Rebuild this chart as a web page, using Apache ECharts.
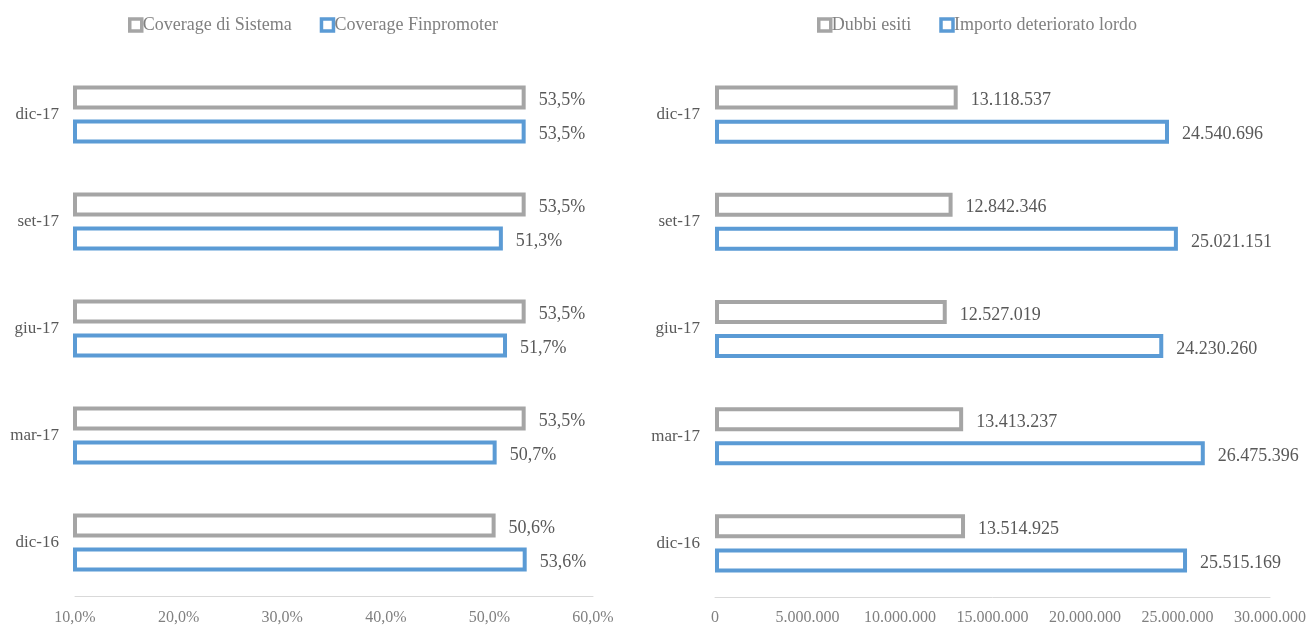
<!DOCTYPE html>
<html>
<head>
<meta charset="utf-8">
<script src="https://cdn.jsdelivr.net/npm/echarts@6/dist/echarts.min.js"></script>
<style>
html,body{margin:0;padding:0;background:#fff;}
#chart{width:1316px;height:626px;}
</style>
</head>
<body>
<div id="chart"></div>
<script>
const categories = ['dic-16', 'mar-17', 'giu-17', 'set-17', 'dic-17'];
const coverageSistema = [50.6, 53.5, 53.5, 53.5, 53.5];
const coverageFinpromoter = [53.6, 50.7, 51.7, 51.3, 53.5];
const dubbiEsiti = [13514925, 13413237, 12527019, 12842346, 13118537];
const importoDeteriorato = [25515169, 26475396, 24230260, 25021151, 24540696];
const pctTicks = { min: 10, max: 60, interval: 10 };
const amtTicks = { min: 0, max: 30000000, interval: 5000000 };

const FONT = 'Liberation Serif';
const GRAY = '#A5A5A5';
const BLUE = '#5B9BD5';

function fmtPct(v) { return v.toFixed(1).replace('.', ',') + '%'; }
function fmtAmt(v) { return String(Math.round(v)).replace(/\B(?=(\d{3})+(?!\d))/g, '.'); }

const chart = echarts.init(document.getElementById('chart'), null, { renderer: 'canvas' });

function barSeries(name, data, color, idx, fmt) {
  return {
    name: name,
    type: 'bar',
    xAxisIndex: idx,
    yAxisIndex: idx,
    data: data,
    barWidth: 24,
    barGap: '42%',
    itemStyle: { color: '#ffffff', borderColor: color, borderWidth: 4 },
    label: {
      show: true,
      position: 'right',
      distance: 13,
      offset: [0, 3],
      color: '#595959',
      fontFamily: FONT,
      fontSize: 18,
      formatter: function (p) { return fmt(p.value); }
    },
    emphasis: { disabled: true },
    animation: false
  };
}

const axisLabelBase = { fontFamily: FONT, color: '#808080', fontSize: 16 };
const axisLineStyle = { show: true, lineStyle: { color: '#D9D9D9', width: 1 } };

function legendCfg(left, names) {
  return {
    left: left, top: 11,
    itemWidth: 12, itemHeight: 12, itemGap: 28,
    icon: 'rect',
    itemStyle: { borderWidth: 3.5 },
    textStyle: { fontFamily: FONT, fontSize: 18, color: '#808080', padding: [0, 0, 0, -4] },
    data: names
  };
}

chart.setOption({
  animation: false,
  legend: [
    legendCfg(123, ['Coverage di Sistema', 'Coverage Finpromoter']),
    legendCfg(812, ['Dubbi esiti', 'Importo deteriorato lordo'])
  ],
  grid: [
    { left: 75, width: 518, top: 61, height: 535 },
    { left: 715, width: 555, top: 61, height: 536 }
  ],
  xAxis: [
    {
      gridIndex: 0, type: 'value',
      min: pctTicks.min, max: pctTicks.max, interval: pctTicks.interval,
      splitLine: { show: false }, axisLine: axisLineStyle, axisTick: { show: false },
      axisLabel: Object.assign({ margin: 14, formatter: function (v) { return fmtPct(v); } }, axisLabelBase)
    },
    {
      gridIndex: 1, type: 'value',
      min: amtTicks.min, max: amtTicks.max, interval: amtTicks.interval,
      splitLine: { show: false }, axisLine: axisLineStyle, axisTick: { show: false },
      axisLabel: Object.assign({ margin: 13, formatter: function (v) { return fmtAmt(v); } }, axisLabelBase)
    }
  ],
  yAxis: [
    {
      gridIndex: 0, type: 'category', data: categories,
      axisLine: { show: false }, axisTick: { show: false },
      axisLabel: { fontFamily: FONT, color: '#595959', fontSize: 17, margin: 16 }
    },
    {
      gridIndex: 1, type: 'category', data: categories,
      axisLine: { show: false }, axisTick: { show: false },
      axisLabel: { fontFamily: FONT, color: '#595959', fontSize: 17, margin: 15 }
    }
  ],
  series: [
    barSeries('Coverage di Sistema', coverageSistema, GRAY, 0, fmtPct),
    barSeries('Coverage Finpromoter', coverageFinpromoter, BLUE, 0, fmtPct),
    barSeries('Dubbi esiti', dubbiEsiti, GRAY, 1, fmtAmt),
    barSeries('Importo deteriorato lordo', importoDeteriorato, BLUE, 1, fmtAmt)
  ]
});
</script>
</body>
</html>
